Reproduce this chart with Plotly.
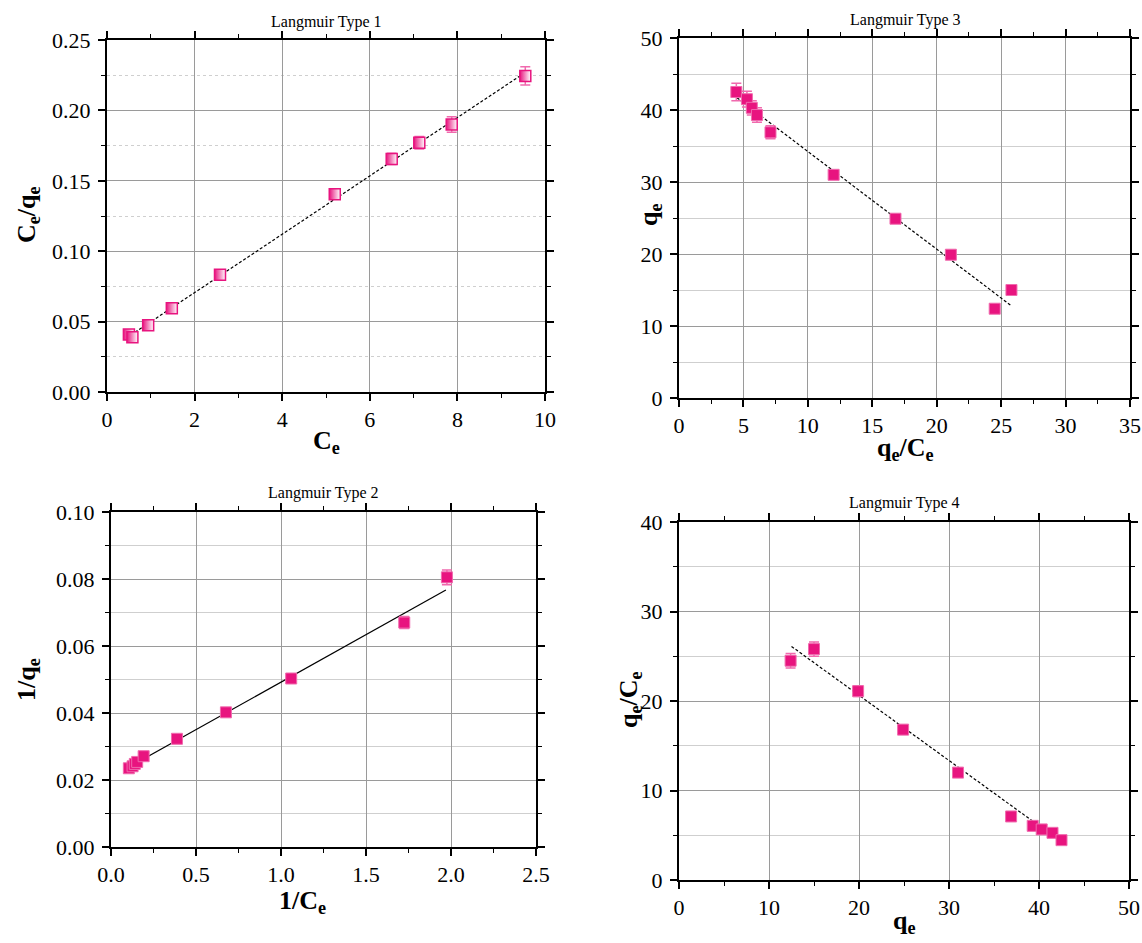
import plotly.graph_objects as go

# ---------------- data ----------------
# Langmuir Type 1: Ce vs Ce/qe
t1_ce = [0.50, 0.58, 0.94, 1.48, 2.58, 5.20, 6.50, 7.13, 7.87, 9.55]
t1_ceqe = [0.0408, 0.0388, 0.0474, 0.0595, 0.0833, 0.1405, 0.1655, 0.1770, 0.1900, 0.2245]
t1_err = [0.0020, 0.0020, 0.0018, 0.0020, 0.0020, 0.0030, 0.0040, 0.0045, 0.0055, 0.0065]
t1_fit_x = [0.45, 9.55]
t1_fit_y = [0.0385, 0.2270]

# Langmuir Type 3: qe/Ce vs qe
t3_qc = [4.45, 5.27, 5.65, 6.05, 7.10, 12.0, 16.8, 21.1, 24.5, 25.8]
t3_qe = [42.5, 41.5, 40.3, 39.3, 36.9, 31.0, 24.9, 19.9, 12.4, 15.0]
t3_err = [1.2, 1.1, 1.0, 1.0, 0.9, 0.6, 0.4, 0.3, 0.2, 0.3]
t3_fit_x = [4.5, 25.8]
t3_fit_y = [41.7, 12.8]

# Langmuir Type 2: 1/Ce vs 1/qe
t2_ice = [0.105, 0.127, 0.140, 0.154, 0.192, 0.388, 0.676, 1.060, 1.725, 1.976]
t2_iqe = [0.0235, 0.0241, 0.0248, 0.0254, 0.0271, 0.0323, 0.0402, 0.0503, 0.0670, 0.0805]
t2_err = [0.0006, 0.0006, 0.0006, 0.0006, 0.0006, 0.0006, 0.0007, 0.0010, 0.0018, 0.0022]
t2_fit_x = [0.10, 1.97]
t2_fit_y = [0.0237, 0.0767]

# Langmuir Type 4: qe vs qe/Ce
t4_qe = [12.4, 15.0, 19.9, 24.9, 31.0, 36.9, 39.3, 40.3, 41.5, 42.5]
t4_qc = [24.5, 25.8, 21.1, 16.8, 12.0, 7.1, 6.05, 5.65, 5.27, 4.45]
t4_err = [0.8, 0.8, 0.6, 0.3, 0.3, 0.3, 0.3, 0.3, 0.3, 0.3]
t4_fit_x = [12.5, 42.7]
t4_fit_y = [26.1, 4.1]

PINK = "#E8147F"
PINK_LIGHT = "#F06AAE"
FONT = "Times New Roman, Liberation Serif, serif"

fig = go.Figure()

def add_points(x, y, err, xa, ya, half=False):
    marker = dict(symbol="square", size=11, color=PINK,
                  line=dict(color=PINK_LIGHT, width=1))
    if half:
        marker = dict(symbol="square", size=11, color=PINK,
                      gradient=dict(type="horizontal", color="white"),
                      line=dict(color=PINK, width=1.5))
    fig.add_trace(go.Scatter(
        x=x, y=y, mode="markers", xaxis=xa, yaxis=ya, marker=marker,
        error_y=dict(type="data", array=err, visible=True,
                     color=PINK_LIGHT, thickness=1.5, width=5),
        showlegend=False))

def add_fit(x, y, xa, ya, dash):
    fig.add_trace(go.Scatter(
        x=x, y=y, mode="lines", xaxis=xa, yaxis=ya,
        line=dict(color="black", width=1.2, dash=dash), showlegend=False))

add_fit(t1_fit_x, t1_fit_y, "x", "y", "3px,2px")
add_points(t1_ce, t1_ceqe, t1_err, "x", "y", half=True)
add_fit(t3_fit_x, t3_fit_y, "x2", "y2", "3px,2px")
add_points(t3_qc, t3_qe, t3_err, "x2", "y2")
add_fit(t2_fit_x, t2_fit_y, "x3", "y3", "solid")
add_points(t2_ice, t2_iqe, t2_err, "x3", "y3")
add_fit(t4_fit_x, t4_fit_y, "x4", "y4", "3px,2px")
add_points(t4_qe, t4_qc, t4_err, "x4", "y4")

W, H = 1142, 943

def dx(a, b):
    return [a / W, b / W]

def dy(top, bottom):
    return [1 - bottom / H, 1 - top / H]

def axis(domain, rng, dtick, anchor, fmt=None, minor_grid=False, minor_dash="solid", standoff=0):
    d = dict(domain=domain, range=rng, dtick=dtick, tick0=0, anchor=anchor,
             automargin=False, ticklabelstandoff=standoff,
             showline=True, linecolor="black", linewidth=2, mirror="allticks",
             ticks="outside", ticklen=7, tickwidth=1.5, tickcolor="black",
             showgrid=True, gridcolor="#9a9a9a", gridwidth=1,
             zeroline=False, fixedrange=True,
             tickfont=dict(family=FONT, size=22, color="black"),
             minor=dict(dtick=dtick / 2, tick0=0, ticks="outside", ticklen=4,
                        tickwidth=1.2, tickcolor="black",
                        showgrid=minor_grid, gridcolor="#cfcfcf",
                        griddash=minor_dash, gridwidth=1))
    if fmt:
        d["tickformat"] = fmt
    return d

layout = dict(
    width=W, height=H, margin=dict(l=0, r=0, t=0, b=0, autoexpand=False),
    paper_bgcolor="white", plot_bgcolor="white",
    font=dict(family=FONT),
    xaxis=axis(dx(107, 545), [0, 10], 2, "y"),
    yaxis=axis(dy(40, 392), [0, 0.25], 0.05, "x", ".2f", True, "dot", 3),
    xaxis2=axis(dx(679, 1130), [0, 35], 5, "y2"),
    yaxis2=axis(dy(38, 398), [0, 50], 10, "x2", None, True, "solid", 3),
    xaxis3=axis(dx(111, 536), [0, 2.5], 0.5, "y3", ".1f"),
    yaxis3=axis(dy(512, 847), [0, 0.1], 0.02, "x3", ".2f", True, "solid", 3),
    xaxis4=axis(dx(679, 1129), [0, 50], 10, "y4"),
    yaxis4=axis(dy(522, 880), [0, 40], 10, "x4", None, True, "solid", 3),
)
fig.update_layout(**layout)

def ann(text, x, y, size, bold=False, angle=0):
    if bold:
        text = "<b>" + text + "</b>"
    fig.add_annotation(text=text, x=x / W, y=1 - y / H, xref="paper", yref="paper",
                       showarrow=False, textangle=angle,
                       font=dict(family=FONT, size=size, color="black"),
                       xanchor="center", yanchor="middle")

# panel titles
ann("Langmuir Type 1", 326, 22, 16)
ann("Langmuir Type 3", 905, 20, 16)
ann("Langmuir Type 2", 323, 493, 16)
ann("Langmuir Type 4", 904, 503, 16)

# axis titles
ann("C<sub>e</sub>", 326, 442, 26, True)
ann("C<sub>e</sub>/q<sub>e</sub>", 28, 215, 26, True, -90)
ann("q<sub>e</sub>/C<sub>e</sub>", 905, 449, 26, True)
ann("q<sub>e</sub>", 650, 215, 26, True, -90)
ann("1/C<sub>e</sub>", 302, 902, 26, True)
ann("1/q<sub>e</sub>", 28, 680, 26, True, -90)
ann("q<sub>e</sub>", 904, 922, 26, True)
ann("q<sub>e</sub>/C<sub>e</sub>", 630, 700, 26, True, -90)

fig.write_html("out.html")
